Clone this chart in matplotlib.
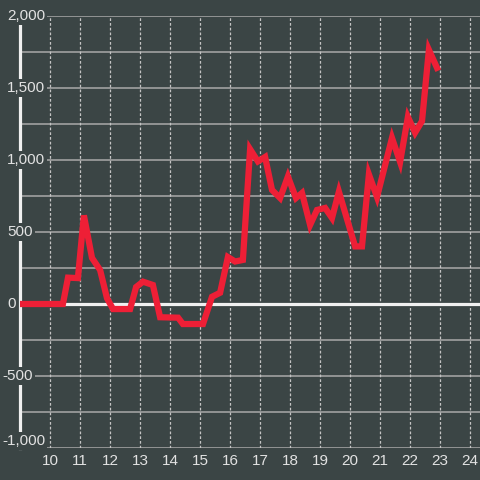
import matplotlib
matplotlib.use('Agg')
from matplotlib import pyplot as plt
from matplotlib import transforms

x = [9.0, 10.43, 10.6, 10.93, 11.13, 11.4, 11.67, 11.9, 12.1, 12.67, 12.87, 13.1,
     13.43, 13.67, 14.27, 14.43, 15.1, 15.4, 15.67, 15.93, 16.17, 16.43, 16.67,
     16.93, 17.17, 17.4, 17.67, 17.93, 18.2, 18.4, 18.67, 18.9, 19.17, 19.4, 19.63,
     20.17, 20.4, 20.63, 20.9, 21.4, 21.67, 21.93, 22.17, 22.4, 22.63, 22.9]
y = [0, 0, 183, 180, 615, 320, 236, 40, -35, -35, 118, 155,
     132, -92, -95, -139, -139, 50, 78, 326, 295, 306, 1075,
     990, 1021, 792, 736, 885, 736, 771, 549, 653, 667, 597, 780,
     400, 400, 900, 743, 1153, 986, 1299, 1190, 1270, 1765, 1640]

x_ticks = list(range(10, 25))
y_ticks = [-1000, -500, 0, 500, 1000, 1500, 2000]
y_labels = ['-1,000', '-500', '0', '500', '1,000', '1,500', '2,000']

bg = '#3b4545'
red = '#ee1f36'
light = '#e2e2e2'

plt.rcParams['font.family'] = ['Liberation Sans', 'DejaVu Sans']

fig = plt.figure(figsize=(4.8, 4.8), dpi=100, facecolor=bg)
ax = fig.add_axes([20 / 480, 32 / 480, 460 / 480, 432 / 480])
ax.set_facecolor(bg)
ax.set_xlim(9, 9 + 460 / 30)
ax.set_ylim(-1000, 2000)

# grid
for v in range(-1000, 2001, 250):
    if v != 0:
        ax.axhline(v, color='#a9a9a9', lw=1.1, zorder=1)
for t in x_ticks:
    ax.axvline(t, color='#c4c4c4', lw=0.9, linestyle=(0, (2.2, 1.6)), zorder=1)
ax.axhline(0, color='#f0f0f0', lw=2.3, zorder=2)

for s in ['top', 'right', 'bottom']:
    ax.spines[s].set_visible(False)
ax.spines['left'].set_color('#f0f0f0')
ax.spines['left'].set_linewidth(2.3)
ax.spines['left'].set_zorder(3)

ax.plot(x, y, color=red, lw=4.5, zorder=5, solid_joinstyle='miter')

ax.set_xticks(x_ticks)
ax.set_xticklabels([str(t) for t in x_ticks])
ax.set_yticks([])
ax.tick_params(axis='x', length=0, pad=4, labelsize=11, labelcolor=light)

trans = transforms.blended_transform_factory(fig.transFigure, ax.transData)
for v, lab in zip(y_ticks, y_labels):
    xp = 2 / 480 if v < 0 else 7 / 480
    yp = -950 if v == -1000 else v
    ax.text(xp, yp, lab, transform=trans, ha='left', va='center', fontsize=11,
            color=light, clip_on=False, zorder=10,
            bbox=dict(facecolor=bg, edgecolor='none', pad=1.5))

plt.savefig('out.png', facecolor=bg)
